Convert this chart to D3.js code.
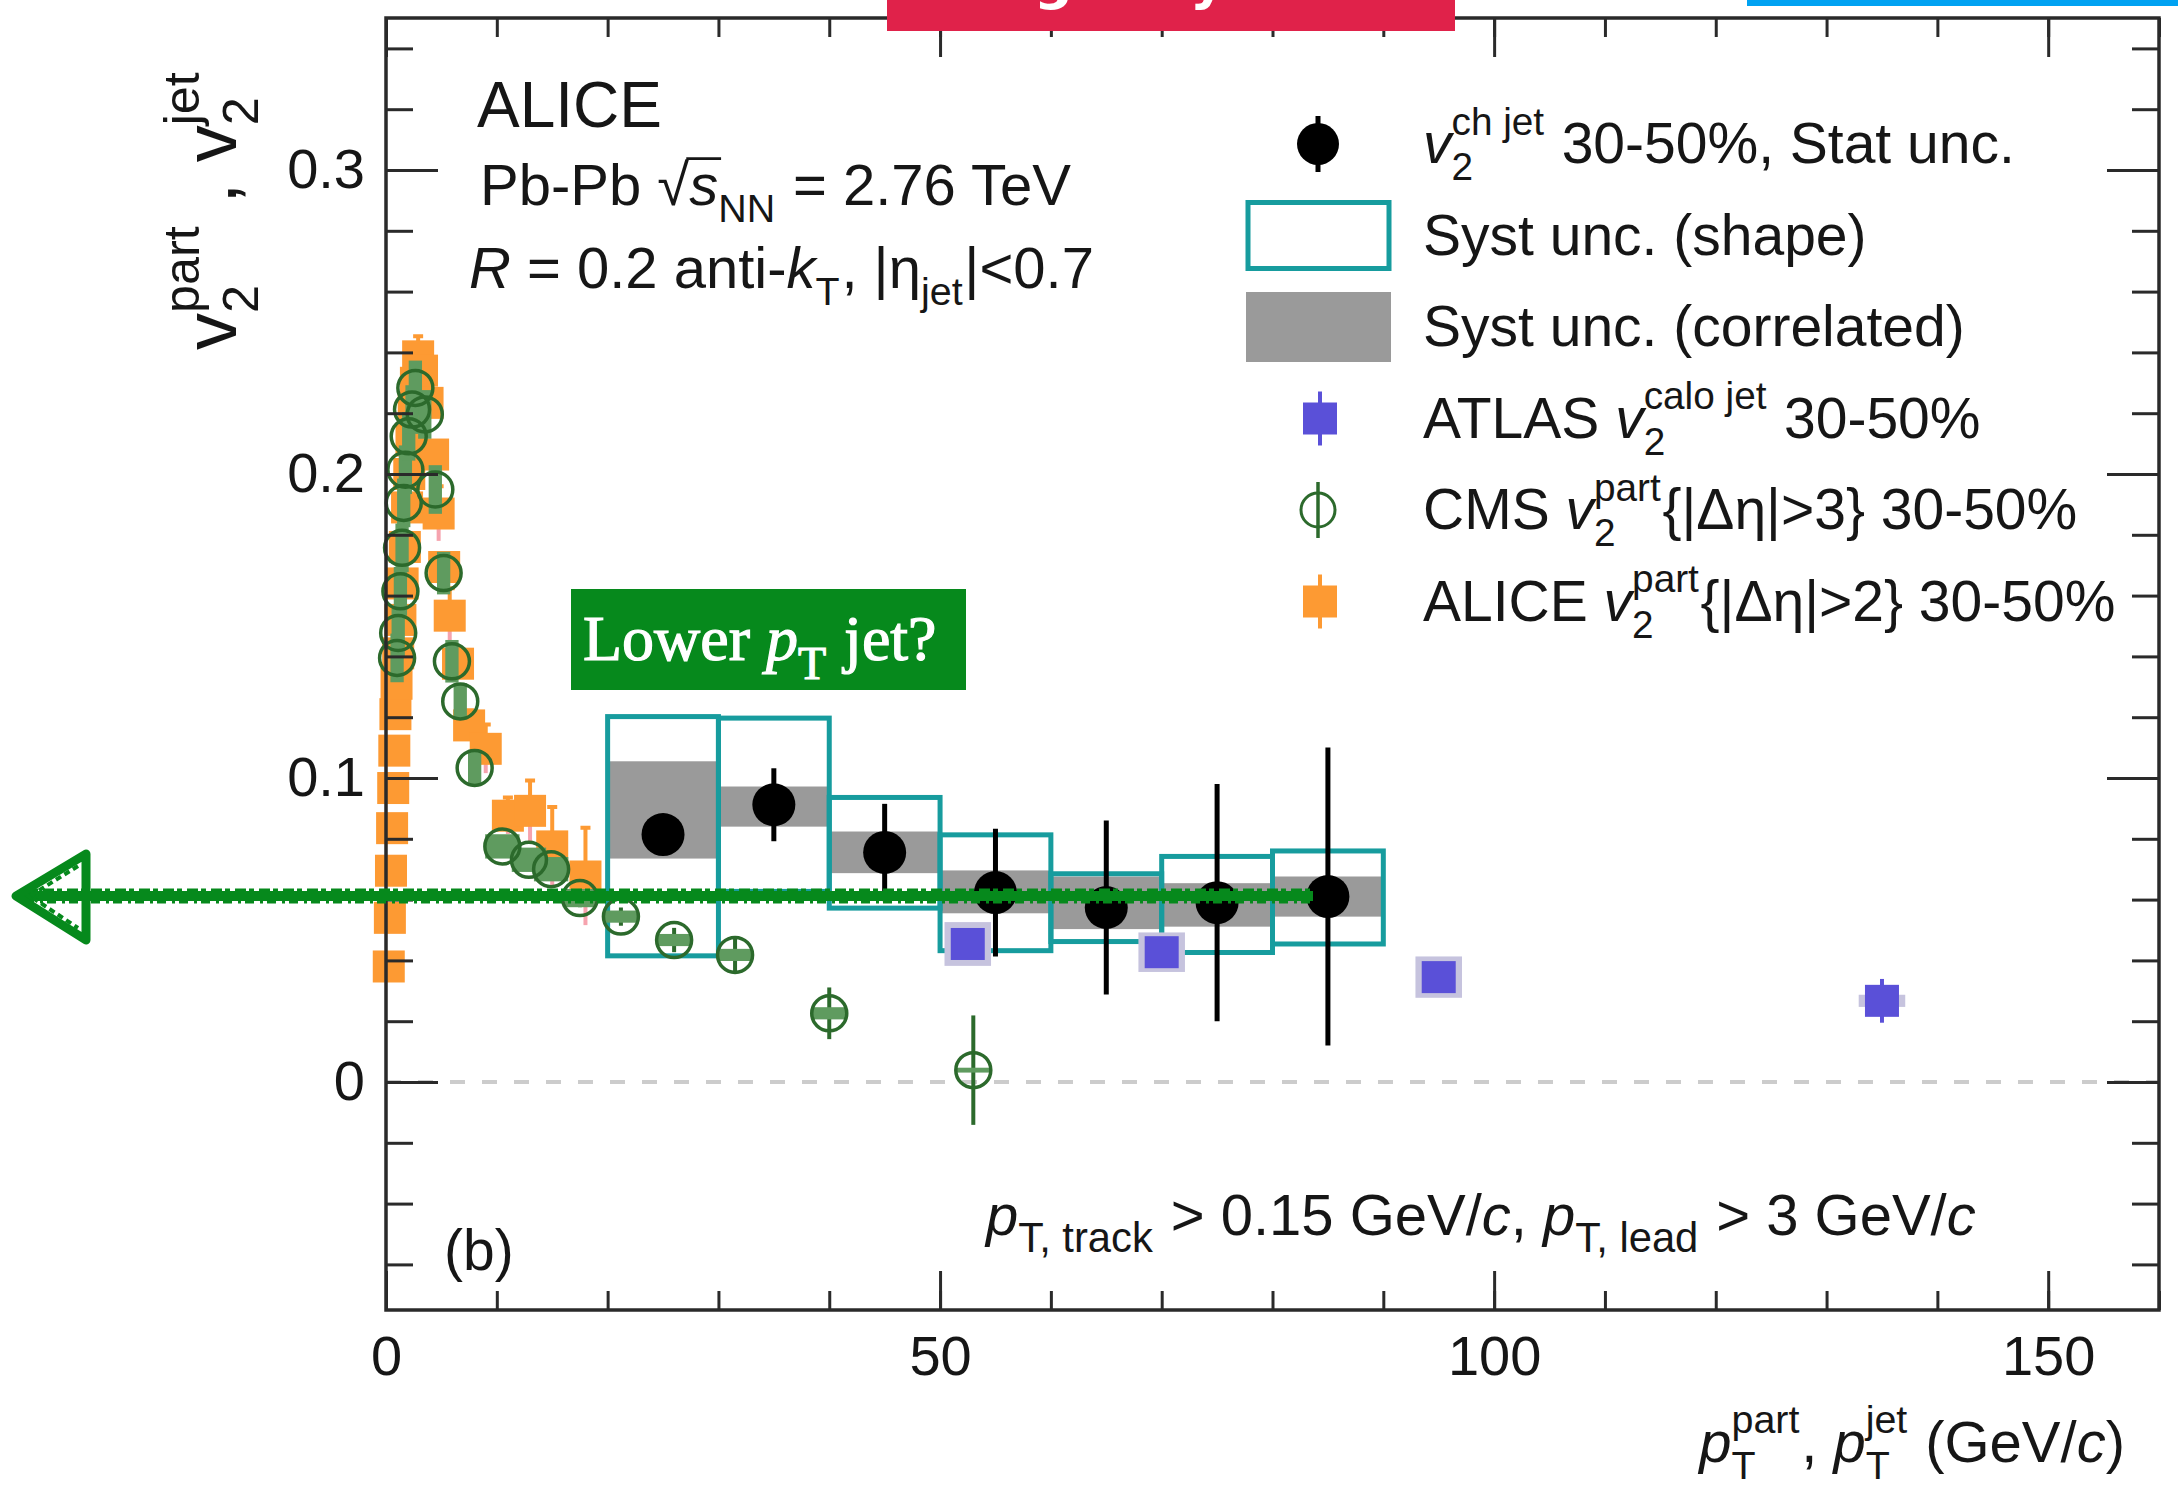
<!DOCTYPE html>
<html>
<head>
<meta charset="utf-8">
<script src="https://cdn.jsdelivr.net/npm/d3@7"></script>
<style>
  html, body { margin: 0; padding: 0; background: #fff; }
  svg { display: block; }
</style>
</head>
<body>
<div id="chart"></div>
<script>
// ---------- data ----------
// ALICE charged-jet v2, 30-50% (bins in GeV/c)
const jetLo      = [20, 30, 40, 50, 60, 70, 80];
const jetHi      = [30, 40, 50, 60, 70, 80, 90];
const jetV2      = [0.0814, 0.0912, 0.0755, 0.0623, 0.0574, 0.0590, 0.0610];
const jetStat    = [0.005, 0.012, 0.016, 0.021, 0.0286, 0.039, 0.049];
const jetShapeLo = [0.0415, 0.0627, 0.0572, 0.0432, 0.0462, 0.0426, 0.0454];
const jetShapeHi = [0.1202, 0.1197, 0.0936, 0.0813, 0.0685, 0.0742, 0.0760];
const jetCorrLo  = [0.0735, 0.0840, 0.0687, 0.0555, 0.0503, 0.0511, 0.0544];
const jetCorrHi  = [0.1055, 0.0972, 0.0824, 0.0696, 0.0676, 0.0654, 0.0676];

// ATLAS calo-jet v2, 30-50%
const atlasPt   = [52.5, 70, 95, 135];
const atlasV2   = [0.0454, 0.0427, 0.0345, 0.0267];
const atlasStat = [0.003, 0.003, 0.003, 0.0072];
const atlasSyst = [0.0072, 0.0065, 0.0068, 0.002];

// CMS v2{|deta|>3}, 30-50%
const cmsPt   = [1.0, 1.1, 1.3, 1.45, 1.6, 1.75, 2.05, 2.35, 2.65, 3.5, 4.45, 5.2, 5.95, 6.7, 8.0,
                 10.5, 12.9, 14.9, 17.5, 21.2, 26, 31.5, 40, 53];
const cmsV2   = [0.1395, 0.1477, 0.1614, 0.1757, 0.1905, 0.2014, 0.2124, 0.2212, 0.2283, 0.2196,
                 0.1949, 0.1674, 0.1384, 0.1252, 0.1033, 0.0775, 0.0731, 0.0700, 0.0605, 0.0544,
                 0.0467, 0.0418, 0.0226, 0.0039];
const cmsStat = [0.001, 0.001, 0.001, 0.001, 0.001, 0.001, 0.001, 0.001, 0.001, 0.001,
                 0.001, 0.001, 0.002, 0.002, 0.002, 0.002, 0.002, 0.002, 0.003, 0.003,
                 0.004, 0.006, 0.0085, 0.018];
const cmsSyst = [0.008, 0.008, 0.008, 0.008, 0.008, 0.008, 0.008, 0.008, 0.009, 0.008,
                 0.008, 0.007, 0.007, 0.006, 0.006, 0.004, 0.004, 0.004, 0.003, 0.002,
                 0.002, 0.002, 0.002, 0.0008];

// ALICE v2{|deta|>2}, 30-50%
const alicePt  = [0.25, 0.35, 0.45, 0.55, 0.65, 0.75, 0.85, 0.95, 1.1, 1.3, 1.5, 1.7, 1.9, 2.1,
                  2.3, 2.5, 2.7, 2.9, 3.25, 3.75, 4.25, 4.75, 5.25, 5.75, 6.5, 7.5, 9, 11, 13, 15, 18];
const aliceV2  = [0.038, 0.054, 0.0695, 0.0835, 0.0967, 0.109, 0.121, 0.131, 0.141, 0.152, 0.164,
                  0.176, 0.189, 0.200, 0.211, 0.221, 0.230, 0.2387, 0.234, 0.2234, 0.2064, 0.187,
                  0.1694, 0.1534, 0.1376, 0.1173, 0.1096, 0.0876, 0.0892, 0.0775, 0.0676];
const aliceErr = [0.001, 0.001, 0.001, 0.001, 0.001, 0.001, 0.001, 0.001, 0.001, 0.001, 0.001,
                  0.001, 0.001, 0.002, 0.002, 0.002, 0.003, 0.0066, 0.003, 0.003, 0.004, 0.009,
                  0.004, 0.009, 0.005, 0.005, 0.008, 0.006, 0.010, 0.013, 0.016];

// axis ticks and labels
const xMajor = [0, 50, 100, 150];
const xMinor = d3.range(0, 161, 10);
const yMajor = [0, 0.1, 0.2, 0.3];
const yMinor = d3.range(-3, 18).map(i => +(i * 0.02).toFixed(2));

// ---------- setup ----------
const W = 2178, H = 1498;
const margin = { top: 18, right: 19, bottom: 188, left: 386 };
const FONT = '"Liberation Sans", Arial, Helvetica, sans-serif';
const SERIF = '"Liberation Serif", "Times New Roman", serif';

const C = {
  axis: '#2a2a2a', text: '#161616',
  teal: '#179c9e', gray: '#9a9a9a',
  atlas: '#5a50d8', atlasSyst: '#c6c3de',
  cms: '#2c6a2c', cmsFill: '#5f9b5f',
  alice: '#fd9a33', alicePink: '#f6a3ae',
  zero: '#cccccc', note: '#06891c'
};

const x = d3.scaleLinear().domain([0, 160]).range([margin.left, W - margin.right]);
const y = d3.scaleLinear().domain([-0.075, 0.35]).range([H - margin.bottom, margin.top]);

const svg = d3.select('#chart').append('svg')
  .attr('width', W).attr('height', H)
  .attr('font-family', FONT);

// Rich text: segments are strings, {t, it, over} or stacked {sub, sup}
function rich(parent, segs, size, px, py, opts = {}) {
  const g = parent.append('g');
  const t = g.append('text')
    .attr('font-family', opts.family || FONT)
    .attr('font-size', size)
    .attr('fill', opts.fill || C.text)
    .style('white-space', 'pre');
  if (opts.stroke) t.attr('stroke', opts.fill).attr('stroke-width', opts.stroke);
  const scr = opts.script || 0.68;
  let cx = 0;
  const add = (str, sz, dy, it) => {
    const ts = t.append('tspan').attr('x', cx).attr('y', dy).attr('font-size', sz).text(str);
    if (it) ts.attr('font-style', 'italic');
    return ts.node().getComputedTextLength();
  };
  segs.forEach(s => {
    if (typeof s === 'string') s = { t: s };
    if (s.sub !== undefined || s.sup !== undefined) {
      let w = 0;
      if (s.sub !== undefined) w = Math.max(w, add(s.sub, size * scr, size * 0.3, s.subIt));
      if (s.sup !== undefined) w = Math.max(w, add(s.sup, size * scr, -size * 0.5, s.supIt));
      cx += w + size * 0.03;
    } else {
      const w = add(s.t, size, 0, s.it);
      if (s.over) {
        g.append('line')
          .attr('x1', cx - size * 0.05).attr('x2', cx + w + size * 0.05)
          .attr('y1', -size * 0.8).attr('y2', -size * 0.8)
          .attr('stroke', opts.fill || C.text).attr('stroke-width', size * 0.045);
      }
      cx += w;
    }
  });
  if (opts.rotate) {
    g.attr('transform', `translate(${px},${py + cx}) rotate(-90)`);
  } else {
    const tx = opts.anchor === 'end' ? px - cx : px;
    g.attr('transform', `translate(${tx},${py})`);
  }
  return cx;
}

// ---------- zero line ----------
svg.append('line')
  .attr('x1', x(0)).attr('x2', x(160))
  .attr('y1', y(0)).attr('y2', y(0))
  .attr('stroke', C.zero).attr('stroke-width', 4)
  .attr('stroke-dasharray', '15,17');

// ---------- ALICE jet v2: correlated (gray) and shape (teal) ----------
const jets = jetV2.map((v, i) => ({
  lo: jetLo[i], hi: jetHi[i], v, stat: jetStat[i],
  sLo: jetShapeLo[i], sHi: jetShapeHi[i], cLo: jetCorrLo[i], cHi: jetCorrHi[i]
}));

svg.append('g').selectAll('rect').data(jets).join('rect')
  .attr('x', d => x(d.lo)).attr('width', d => x(d.hi) - x(d.lo))
  .attr('y', d => y(d.cHi)).attr('height', d => y(d.cLo) - y(d.cHi))
  .attr('fill', C.gray);

svg.append('g').selectAll('rect').data(jets).join('rect')
  .attr('x', d => x(d.lo)).attr('width', d => x(d.hi) - x(d.lo))
  .attr('y', d => y(d.sHi)).attr('height', d => y(d.sLo) - y(d.sHi))
  .attr('fill', 'none').attr('stroke', C.teal).attr('stroke-width', 5);

// ---------- ALICE v2{|deta|>2} (orange squares) ----------
const alice = aliceV2.map((v, i) => ({ pt: alicePt[i], v, e: aliceErr[i] }));
const aliceG = svg.append('g');
const SQ = 32;
aliceG.selectAll('.lo').data(alice).join('line')
  .attr('x1', d => x(d.pt)).attr('x2', d => x(d.pt))
  .attr('y1', d => y(d.v)).attr('y2', d => y(d.v - d.e))
  .attr('stroke', C.alicePink).attr('stroke-width', 4);
aliceG.selectAll('.hi').data(alice).join('path')
  .attr('d', d => `M${x(d.pt)},${y(d.v)}V${y(d.v + d.e)}M${x(d.pt) - 5},${y(d.v + d.e)}h10`)
  .attr('stroke', C.alice).attr('stroke-width', 4).attr('fill', 'none');
aliceG.selectAll('rect').data(alice).join('rect')
  .attr('x', d => x(d.pt) - SQ / 2).attr('y', d => y(d.v) - SQ / 2)
  .attr('width', SQ).attr('height', SQ)
  .attr('fill', C.alice);

// ---------- CMS (open green circles) ----------
const cmsBoxHalf = pt => pt < 9 ? 0.6 : 1.55;
const cms = cmsV2.map((v, i) => ({ pt: cmsPt[i], v, e: cmsStat[i], s: cmsSyst[i] }));
const cmsG = svg.append('g');
const R = 17.5;
cmsG.selectAll('line').data(cms).join('line')
  .attr('x1', d => x(d.pt)).attr('x2', d => x(d.pt))
  .attr('y1', d => y(d.v + d.e)).attr('y2', d => y(d.v - d.e))
  .attr('stroke', C.cms).attr('stroke-width', 4);
cmsG.selectAll('rect').data(cms).join('rect')
  .attr('x', d => x(d.pt - cmsBoxHalf(d.pt)))
  .attr('width', d => x(d.pt + cmsBoxHalf(d.pt)) - x(d.pt - cmsBoxHalf(d.pt)))
  .attr('y', d => y(d.v + d.s)).attr('height', d => y(d.v - d.s) - y(d.v + d.s))
  .attr('fill', C.cmsFill);
cmsG.selectAll('circle').data(cms).join('circle')
  .attr('cx', d => x(d.pt)).attr('cy', d => y(d.v)).attr('r', R)
  .attr('fill', 'none').attr('stroke', C.cms).attr('stroke-width', 3.5);

// ---------- ATLAS (blue squares) ----------
const atlas = atlasV2.map((v, i) => ({ pt: atlasPt[i], v, e: atlasStat[i], s: atlasSyst[i] }));
const atlasG = svg.append('g');
atlasG.selectAll('.syst').data(atlas).join('rect')
  .attr('x', d => x(d.pt - 2.1)).attr('width', d => x(d.pt + 2.1) - x(d.pt - 2.1))
  .attr('y', d => y(d.v + d.s)).attr('height', d => y(d.v - d.s) - y(d.v + d.s))
  .attr('fill', C.atlasSyst);
atlasG.selectAll('line').data(atlas).join('line')
  .attr('x1', d => x(d.pt)).attr('x2', d => x(d.pt))
  .attr('y1', d => y(d.v + d.e)).attr('y2', d => y(d.v - d.e))
  .attr('stroke', C.atlas).attr('stroke-width', 4);
atlasG.selectAll('.pt').data(atlas).join('rect')
  .attr('x', d => x(d.pt) - 17).attr('y', d => y(d.v) - 16)
  .attr('width', 34).attr('height', 32)
  .attr('fill', C.atlas);

// ---------- ALICE jet v2 points ----------
const jetG = svg.append('g');
jetG.selectAll('line').data(jets).join('line')
  .attr('x1', d => x((d.lo + d.hi) / 2)).attr('x2', d => x((d.lo + d.hi) / 2))
  .attr('y1', d => y(d.v + d.stat)).attr('y2', d => y(d.v - d.stat))
  .attr('stroke', '#000').attr('stroke-width', 5);
jetG.selectAll('circle').data(jets).join('circle')
  .attr('cx', d => x((d.lo + d.hi) / 2)).attr('cy', d => y(d.v)).attr('r', 21.5)
  .attr('fill', '#000');

// ---------- axes (ticks point inward, ROOT style) ----------
const fmtY = d => d === 0 ? '0' : d3.format('.1f')(d);
function axis(gen, tr, vals, size, fmt, pad) {
  const g = svg.append('g').attr('transform', tr)
    .call(gen.tickValues(vals).tickSize(size).tickPadding(pad || 0).tickFormat(fmt || (() => '')));
  g.select('.domain').remove();
  g.selectAll('line').attr('stroke', C.axis).attr('stroke-width', 3);
  g.selectAll('text').attr('font-size', 56).attr('font-family', FONT).attr('fill', C.text);
  return g;
}
const bottomY = H - margin.bottom, rightX = W - margin.right;
axis(d3.axisBottom(x), `translate(0,${bottomY})`, xMinor, -19);
axis(d3.axisBottom(x), `translate(0,${bottomY})`, xMajor, -39, d3.format('d'), 25);
axis(d3.axisTop(x), `translate(0,${margin.top})`, xMinor, -19);
axis(d3.axisTop(x), `translate(0,${margin.top})`, xMajor, -39);
axis(d3.axisLeft(y), `translate(${margin.left},0)`, yMinor, -27);
axis(d3.axisLeft(y), `translate(${margin.left},0)`, yMajor, -52, fmtY, 21);
axis(d3.axisRight(y), `translate(${rightX},0)`, yMinor, -27);
axis(d3.axisRight(y), `translate(${rightX},0)`, yMajor, -52);

svg.append('rect')
  .attr('x', margin.left).attr('y', margin.top)
  .attr('width', rightX - margin.left).attr('height', bottomY - margin.top)
  .attr('fill', 'none').attr('stroke', C.axis).attr('stroke-width', 3.5);

// axis titles
rich(svg, [{ t: 'p', it: true }, { sub: 'T', sup: 'part' }, ', ', { t: 'p', it: true }, { sub: 'T', sup: 'jet' },
  ' (GeV/', { t: 'c', it: true }, ')'], 58, 2125, 1462, { anchor: 'end' });
rich(svg, ['v', { sub: '2', sup: 'part' }, ' , ', 'v', { sub: '2', sup: 'jet' }], 74, 236, 70, { rotate: true });

// ---------- in-plot labels ----------
rich(svg, ['ALICE'], 64, 477, 127);
rich(svg, ['Pb-Pb ', '\u221A', { t: 's', it: true, over: true }, { sub: 'NN' }, ' = 2.76 TeV'], 58, 480, 205);
rich(svg, [{ t: 'R', it: true }, ' = 0.2 anti-', { t: 'k', it: true }, { sub: 'T' }, ', |\u03B7', { sub: 'jet' }, '|<0.7'],
  58, 469, 288);
rich(svg, ['(b)'], 57, 444, 1270);
rich(svg, [{ t: 'p', it: true }, { sub: 'T, track' }, ' > 0.15 GeV/', { t: 'c', it: true }, ', ',
  { t: 'p', it: true }, { sub: 'T, lead' }, ' > 3 GeV/', { t: 'c', it: true }], 58, 986, 1235, { script: 0.72 });

// ---------- legend ----------
const lgX = 1318, lgText = 1423, lgBase = 163, lgStep = 91.5;
const lg = svg.append('g');
const rowY = i => lgBase + i * lgStep - 19;
lg.append('line').attr('x1', lgX).attr('x2', lgX).attr('y1', rowY(0) - 28).attr('y2', rowY(0) + 28)
  .attr('stroke', '#000').attr('stroke-width', 5);
lg.append('circle').attr('cx', lgX).attr('cy', rowY(0)).attr('r', 21).attr('fill', '#000');
lg.append('rect').attr('x', 1248).attr('y', rowY(1) - 33).attr('width', 141).attr('height', 66)
  .attr('fill', 'none').attr('stroke', C.teal).attr('stroke-width', 5);
lg.append('rect').attr('x', 1246).attr('y', rowY(2) - 35).attr('width', 145).attr('height', 70)
  .attr('fill', C.gray);
lg.append('line').attr('x1', lgX + 2).attr('x2', lgX + 2).attr('y1', rowY(3) - 27).attr('y2', rowY(3) + 27)
  .attr('stroke', C.atlas).attr('stroke-width', 4);
lg.append('rect').attr('x', lgX + 2 - 17).attr('y', rowY(3) - 16).attr('width', 34).attr('height', 32)
  .attr('fill', C.atlas);
lg.append('line').attr('x1', lgX).attr('x2', lgX).attr('y1', rowY(4) - 28).attr('y2', rowY(4) + 28)
  .attr('stroke', C.cms).attr('stroke-width', 3.5);
lg.append('circle').attr('cx', lgX).attr('cy', rowY(4)).attr('r', 17)
  .attr('fill', 'none').attr('stroke', C.cms).attr('stroke-width', 3);
lg.append('line').attr('x1', lgX + 2).attr('x2', lgX + 2).attr('y1', rowY(5) - 27).attr('y2', rowY(5) + 27)
  .attr('stroke', C.alice).attr('stroke-width', 4);
lg.append('rect').attr('x', lgX + 2 - 17).attr('y', rowY(5) - 16).attr('width', 34).attr('height', 32)
  .attr('fill', C.alice);

const LS = 57;
rich(lg, [{ t: 'v', it: true }, { sub: '2', sup: 'ch jet' }, ' 30-50%, Stat unc.'], LS, lgText, lgBase);
rich(lg, ['Syst unc. (shape)'], LS, lgText, lgBase + lgStep);
rich(lg, ['Syst unc. (correlated)'], LS, lgText, lgBase + 2 * lgStep);
rich(lg, ['ATLAS ', { t: 'v', it: true }, { sub: '2', sup: 'calo jet' }, ' 30-50%'], LS, lgText, lgBase + 3 * lgStep);
rich(lg, ['CMS ', { t: 'v', it: true }, { sub: '2', sup: 'part' }, '{|\u0394\u03B7|>3} 30-50%'], LS, lgText, lgBase + 4 * lgStep);
rich(lg, ['ALICE ', { t: 'v', it: true }, { sub: '2', sup: 'part' }, '{|\u0394\u03B7|>2} 30-50%'], LS, lgText, lgBase + 5 * lgStep);

// ---------- slide annotations on top ----------
const ann = svg.append('g');
// red title strip (only descenders of its text show)
ann.append('rect').attr('x', 887).attr('y', 0).attr('width', 568).attr('height', 31).attr('fill', '#e0224a');
ann.append('text').attr('x', 1034).attr('y', -1).attr('font-size', 54).attr('font-weight', 'bold')
  .attr('font-family', '"DejaVu Sans", sans-serif').attr('fill', '#fff').text('g');
ann.append('text').attr('x', 1190).attr('y', -1).attr('font-size', 54).attr('font-weight', 'bold')
  .attr('font-family', '"DejaVu Sans", sans-serif').attr('fill', '#fff').text('y');
// blue strip top right
ann.append('rect').attr('x', 1747).attr('y', 0).attr('width', W - 1747).attr('height', 6).attr('fill', '#00a2f2');

// hand-drawn green arrow pointing left
const arrowY = 896;
ann.append('line').attr('x1', 1313).attr('x2', 20).attr('y1', arrowY).attr('y2', arrowY)
  .attr('stroke', C.note).attr('stroke-width', 10);
[-6, 6].forEach((o, i) => {
  ann.append('line').attr('x1', 1310).attr('x2', 22).attr('y1', arrowY + o).attr('y2', arrowY + o)
    .attr('stroke', C.note).attr('stroke-width', 3)
    .attr('stroke-dasharray', i ? '9,4,3,6' : '5,3,11,5');
});
ann.append('path').attr('d', `M86,${arrowY - 42}L16,${arrowY}L86,${arrowY + 44}Z`)
  .attr('fill', 'none').attr('stroke', C.note).attr('stroke-width', 9).attr('stroke-linejoin', 'round');
ann.append('path').attr('d', `M78,${arrowY - 30}L30,${arrowY}L78,${arrowY + 32}`)
  .attr('fill', 'none').attr('stroke', C.note).attr('stroke-width', 4).attr('stroke-dasharray', '6,4');

// green note box
ann.append('rect').attr('x', 571).attr('y', 589).attr('width', 395).attr('height', 101).attr('fill', C.note);
rich(ann, ['Lower ', { t: 'p', it: true }, { sub: 'T' }, ' jet?'], 64, 583, 660,
  { family: SERIF, fill: '#fff', script: 0.72, stroke: 1.2 });
</script>
</body>
</html>
